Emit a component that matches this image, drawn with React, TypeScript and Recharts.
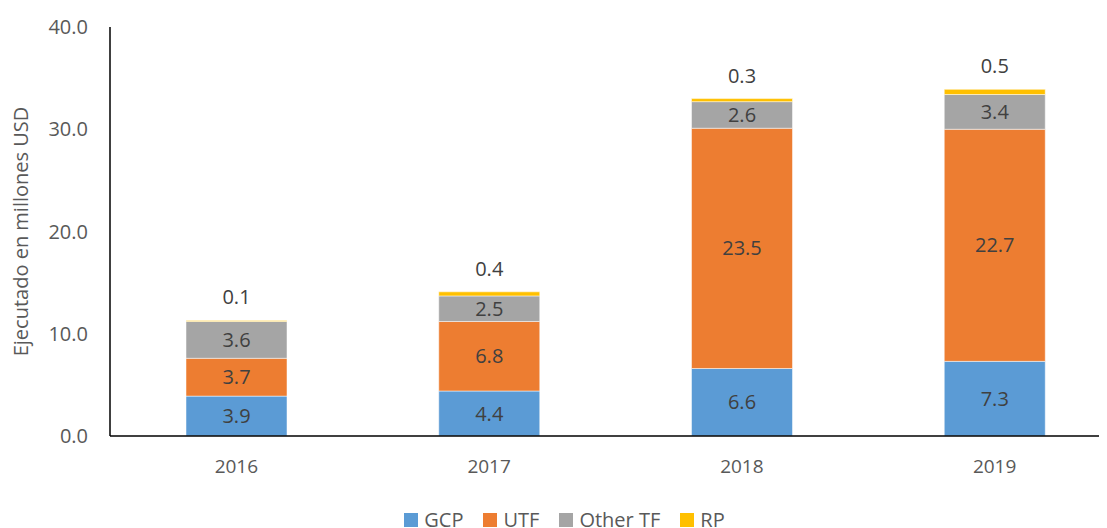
import React from 'react';
import { BarChart, Bar, XAxis, YAxis, LabelList, Legend } from 'recharts';

const years = ['2016', '2017', '2018', '2019'];
const gcp = [3.9, 4.4, 6.6, 7.3];
const utf = [3.7, 6.8, 23.5, 22.7];
const otherTF = [3.6, 2.5, 2.6, 3.4];
const rp = [0.1, 0.4, 0.3, 0.5];
const yTicks = [0, 10, 20, 30, 40];

const seriesNames = ['GCP', 'UTF', 'Other TF', 'RP'];
const seriesColors = ['#5B9BD5', '#ED7D31', '#A5A5A5', '#FFC000'];

const data = years.map((y, i) => ({ year: y, GCP: gcp[i], UTF: utf[i], 'Other TF': otherTF[i], RP: rp[i] }));

const FONT = '"Open Sans", sans-serif';
const fmt = (v: any) => Number(v).toFixed(1);

const YLabel = (props: any) => {
  const vb = props.viewBox || {};
  const x = (vb.x || 0) + 12;
  const y = (vb.y || 0) + (vb.height || 0) / 2;
  return (
    <text x={x} y={y} transform={`rotate(-90, ${x}, ${y})`} textAnchor="middle" dominantBaseline="central"
      fill="#595959" fontSize={20} fontFamily={FONT}>
      Ejecutado en millones USD
    </text>
  );
};

const LegendContent = () => (
  <div style={{ height: 30, display: 'flex', justifyContent: 'center', alignItems: 'flex-end', fontFamily: FONT, fontSize: 20, color: '#595959', transform: 'translateY(4px)' }}>
    {seriesNames.map((n, i) => (
      <div key={n} style={{ display: 'flex', alignItems: 'center', marginRight: i < 3 ? 20 : 0, lineHeight: '24px' }}>
        <span style={{ display: 'inline-block', width: 14, height: 14, background: seriesColors[i], marginRight: 6 }} />
        <span>{n}</span>
      </div>
    ))}
  </div>
);

export default function App() {
  return (
    <div style={{ width: 1099, height: 520, overflow: 'hidden' }}>
      <BarChart width={1113} height={520} data={data} margin={{ top: 19, right: 0, bottom: 0, left: 0 }} style={{ fontFamily: FONT }}>
        <XAxis dataKey="year" axisLine={{ stroke: '#000', strokeWidth: 1.5 }} tickLine={false} tickSize={0} tickMargin={24}
          height={62} tick={{ fill: '#595959', fontSize: 19, fontFamily: FONT }} />
        <YAxis domain={[0, 40]} ticks={yTicks} tickFormatter={fmt} width={102} axisLine={{ stroke: '#000', strokeWidth: 1.5 }}
          tickLine={false} tickSize={0} tickMargin={22} tick={{ fill: '#595959', fontSize: 20, fontFamily: FONT }}
          label={<YLabel />} />
        <Legend verticalAlign="bottom" content={<LegendContent />} />
        {seriesNames.map((n, i) => (
          <Bar key={n} dataKey={n} stackId="a" fill={seriesColors[i]} barSize={101} isAnimationActive={false}
            stroke="#ffffff" strokeWidth={0.5}>
            <LabelList dataKey={n} position={i === 3 ? 'top' : 'center'} offset={i === 3 ? 16 : 5} formatter={fmt}
              fill="#404040" fontSize={20} fontFamily={FONT} />
          </Bar>
        ))}
      </BarChart>
    </div>
  );
}
